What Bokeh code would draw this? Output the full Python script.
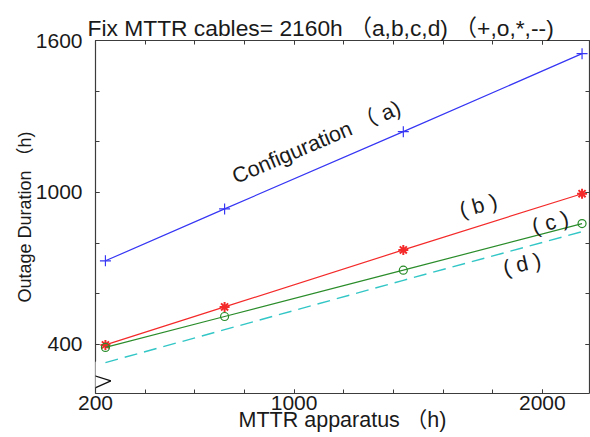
from bokeh.plotting import figure
from bokeh.models import Range1d, FixedTicker, LinearAxis, Label, Arrow, ColumnDataSource
from bokeh.embed import file_html
from bokeh.resources import INLINE

# ---- data ----
x_apparatus = [240, 720, 1440, 2160]          # MTTR apparatus (h)
dur_a = [730, 935, 1240, 1548]                # configuration (a)  "+"
dur_b = [398, 548, 773, 995]                  # configuration (b)  "*"
dur_c = [388, 510, 693, 877]                  # configuration (c)  "o"
dur_d = [328, 458, 653, 845]                  # configuration (d)  "--"

x_major_ticks = [200, 1000, 2000]
x_minor_ticks = [200, 400, 600, 800, 1000, 1200, 1400, 1600, 1800, 2000, 2200]
y_major_ticks = [400, 1000, 1600]
y_minor_ticks = [200, 400, 600, 800, 1000, 1200, 1400, 1600]

title_text = "Fix MTTR cables= 2160h \uff08a,b,c,d) \uff08+,o,*,--)"
x_label = "MTTR apparatus \uff08h)"
y_label = "Outage Duration \uff08h)"
series_labels = ["Configuration \uff08 a)", "( b )", "( c )", "( d )"]

FONT = "'Liberation Sans', 'Noto Sans CJK SC', sans-serif"
TXT = "#1a1a1a"
AX = "#3c3c3c"
BLUE, RED, GREEN, CYAN = "#3636f4", "#f42a2a", "#2a8c2a", "#33c6c6"

p = figure(width=590, height=437, x_range=Range1d(200, 2190), y_range=Range1d(206, 1600),
           output_backend="svg", toolbar_location=None, x_axis_type=None, y_axis_type=None,
           min_border_left=95, min_border_right=1, min_border_top=40, min_border_bottom=44)
p.outline_line_color = None
p.background_fill_color = "white"
p.border_fill_color = "white"


def style_axis(ax, major, minor, show_labels):
    ax.ticker = FixedTicker(ticks=major, minor_ticks=minor)
    ax.major_tick_in = 4
    ax.major_tick_out = 0
    ax.minor_tick_in = 4
    ax.minor_tick_out = 0
    ax.axis_line_color = AX
    ax.major_tick_line_color = AX
    ax.minor_tick_line_color = AX
    ax.axis_line_width = 1.2
    if show_labels:
        ax.major_label_text_font = FONT
        ax.major_label_text_font_size = "21px"
        ax.major_label_text_color = TXT
    else:
        ax.major_label_text_font_size = "0px"
        ax.major_label_text_color = None
        ax.major_label_standoff = 0


xb = LinearAxis(axis_label=x_label)
style_axis(xb, x_major_ticks, x_minor_ticks, True)
xb.major_label_standoff = 2
xb.axis_label_text_font = FONT
xb.axis_label_text_font_size = "21.5px"
xb.axis_label_text_font_style = "normal"
xb.axis_label_text_color = TXT
xb.axis_label_standoff = -5
p.add_layout(xb, "below")

yl = LinearAxis(axis_label=y_label)
style_axis(yl, y_major_ticks, y_minor_ticks, True)
yl.major_label_standoff = 13
yl.axis_label_text_font = FONT
yl.axis_label_text_font_size = "18px"
yl.axis_label_text_font_style = "normal"
yl.axis_label_text_color = TXT
yl.axis_label_standoff = -2
p.add_layout(yl, "left")

xt = LinearAxis()
style_axis(xt, x_major_ticks, x_minor_ticks, False)
p.add_layout(xt, "above")

yr = LinearAxis()
style_axis(yr, y_major_ticks, y_minor_ticks, False)
p.add_layout(yr, "right")

p.title.text = title_text
p.title.text_font = FONT
p.title.text_font_size = "22.8px"
p.title.text_font_style = "normal"
p.title.text_color = TXT
p.title.align = "left"
p.title.offset = -8
p.title.standoff = 0

# series
p.line(x_apparatus, dur_a, line_color=BLUE, line_width=1.2)
p.scatter(x_apparatus, dur_a, marker="cross", size=11, line_color=BLUE, line_width=1.2)

p.line(x_apparatus, dur_b, line_color=RED, line_width=1.2)
p.scatter(x_apparatus, dur_b, marker="asterisk", size=10, line_color=RED, line_width=2)

p.line(x_apparatus, dur_c, line_color=GREEN, line_width=1.2)
p.scatter(x_apparatus, dur_c, marker="circle", size=8, line_color=GREEN, fill_color=None, line_width=1.2)

p.line(x_apparatus, dur_d, line_color=CYAN, line_width=1.4, line_dash="13 7")

# in-plot labels
label_specs = [(1090, 1198, 23), (1742, 947, 15), (2032, 881, 15), (1918, 716, 13)]
for txt, (lx, ly, ang) in zip(series_labels, label_specs):
    p.add_layout(Label(x=lx, y=ly, text=txt, angle=ang, angle_units="deg",
                       text_align="center", text_baseline="middle",
                       text_font=FONT, text_font_size="21.5px", text_color=TXT))

# axis-break zigzag on the y axis
cover = ColumnDataSource(dict(x0=[200], y0=[333], x1=[200], y1=[231]))
p.add_layout(Arrow(end=None, source=cover, x_start="x0", y_start="y0", x_end="x1", y_end="y1",
                   line_color="white", line_width=4))
zig = ColumnDataSource(dict(x0=[201, 144.5, 262], y0=[334.7, 292.4, 256],
                            x1=[144.5, 262, 201], y1=[292.4, 256, 229.3]))
p.add_layout(Arrow(end=None, source=zig, x_start="x0", y_start="y0", x_end="x1", y_end="y1",
                   line_color="#111111", line_width=1.3))

open("out.html", "w").write(file_html(p, INLINE))
